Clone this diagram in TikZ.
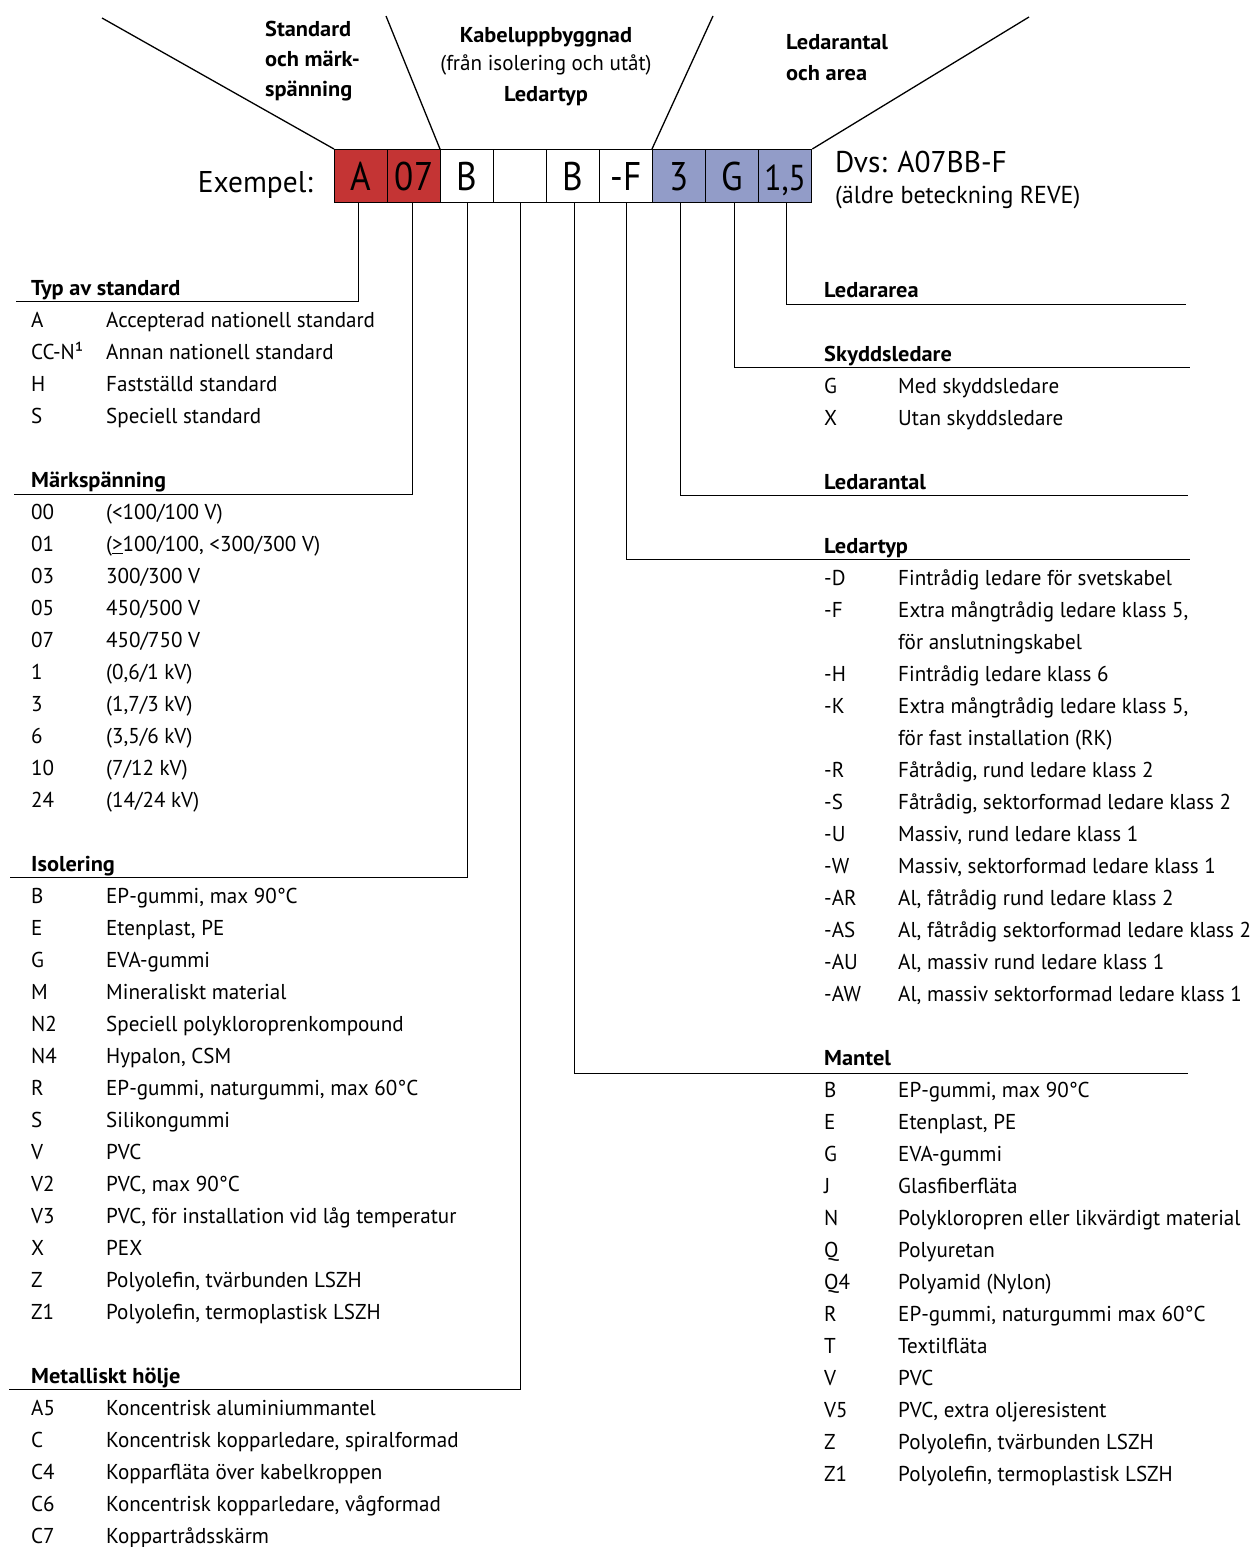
\documentclass[tikz,border=0pt]{standalone}
\usepackage{fontspec}
\setmainfont{PT Sans}[FakeStretch=0.98]
\newfontfamily\hdrfont{PT Sans}[FakeStretch=1.04]
\newfontfamily\cellfont{PT Sans}[FakeStretch=0.88]
\definecolor{cred}{RGB}{196,52,52}
\definecolor{cblue}{RGB}{146,156,200}
\newcommand\LRow[4]{\node[code] (lc#1) at (31,#2) {#3}; \node[desc] (ld#1) at (106,#2) {#4};}
\newcommand\RRow[4]{\node[code] (rc#1) at (824,#2) {#3}; \node[desc] (rd#1) at (898,#2) {#4};}
\begin{document}
\begin{tikzpicture}[x=1pt,y=-1pt,
  conn/.style={draw=black,line width=1.3pt},
  cell/.style={draw=black,line width=1.3pt,minimum width=53pt,minimum height=53pt,inner sep=0pt,anchor=north west,
    text height=28pt,text depth=0pt,font=\cellfont\fontsize{40}{40}\selectfont},
  code/.style={anchor=base west,inner sep=0pt,font=\fontsize{21.5}{24}\selectfont},
  desc/.style={anchor=base west,inner sep=0pt,font=\fontsize{21.5}{24}\selectfont},
  hdr/.style={anchor=base west,inner sep=0pt,font=\hdrfont\fontsize{21.5}{24}\selectfont\bfseries},
  toplbl/.style={inner sep=0pt,font=\hdrfont\fontsize{21.5}{24}\selectfont\bfseries},
]
\useasboundingbox (0,0) rectangle (1256,1547);
% code boxes
\node[cell,fill=cred] (b1) at (334,149) {A};
\node[cell,fill=cred] (b2) at (387,149) {07};
\node[cell,fill=white] (b3) at (440,149) {B};
\node[cell,fill=white] (b4) at (493,149) {};
\node[cell,fill=white] (b5) at (546,149) {B};
\node[cell,fill=white] (b6) at (599,149) {-F};
\node[cell,fill=cblue] (b7) at (652,149) {3};
\node[cell,fill=cblue] (b8) at (705,149) {G};
\node[cell,fill=cblue,font=\cellfont\fontsize{36}{36}\selectfont] (b9) at (758,149) {1,5};
\node[anchor=base east,inner sep=0pt,font=\fontsize{30}{30}\selectfont] (ex) at (313,192) {Exempel:};
\node[anchor=base west,inner sep=0pt,font=\fontsize{30}{30}\selectfont] (dvs) at (835,172) {Dvs: A07BB-F};
\node[anchor=base west,inner sep=0pt,font=\fontsize{24.5}{24.5}\selectfont] (aldre) at (835,203) {(äldre beteckning REVE)};
% top labels
\node[toplbl,anchor=base west] (s1) at (265,36) {Standard};
\node[toplbl,anchor=base west] (s2) at (265,66) {och märk-};
\node[toplbl,anchor=base west] (s3) at (265,96) {spänning};
\node[toplbl,anchor=base] (k1) at (546,42) {Kabeluppbyggnad};
\node[inner sep=0pt,anchor=base,font=\fontsize{21.5}{24}\selectfont] (k2) at (546,70) {(från isolering och utåt)};
\node[toplbl,anchor=base] (k3) at (546,101) {Ledartyp};
\node[toplbl,anchor=base west] (l1) at (786,49) {Ledarantal};
\node[toplbl,anchor=base west] (l2) at (786,80) {och area};
% top diagonals
\coordinate (t1) at (102,18);
\coordinate (t2) at (386,16);
\coordinate (t3) at (713,16);
\coordinate (t4) at (1029,17);
\draw[conn] (b1.north west) -- (t1);
\draw[conn] (b3.north west) -- (t2);
\draw[conn] (b7.north west) -- (t3);
\draw[conn] (b9.north east) -- (t4);
% left headers and connectors
\coordinate (e1) at (16,301.5);
\coordinate (e2) at (14,494.5);
\coordinate (e3) at (10,877.5);
\coordinate (e4) at (9,1389.5);
\draw[conn] ([xshift=-2.5pt]b1.south) |- (e1);
\draw[conn] ([xshift=-1.5pt]b2.south) |- (e2);
\draw[conn] (b3.south) |- (e3);
\draw[conn] (b4.south) |- (e4);
\node[hdr] (h1) at (31,295.5) {Typ av standard};
\node[hdr] (h2) at (31,487.5) {Märkspänning};
\node[hdr] (h3) at (31,871.5) {Isolering};
\node[hdr] (h4) at (31,1383.5) {Metalliskt hölje};
% right headers and connectors
\coordinate (e5) at (1186,304.5);
\coordinate (e6) at (1190,367.5);
\coordinate (e7) at (1188,495.5);
\coordinate (e8) at (1190,559.5);
\coordinate (e9) at (1188,1073.5);
\draw[conn] ([xshift=1.5pt]b9.south) |- (e5);
\draw[conn] ([xshift=2.5pt]b8.south) |- (e6);
\draw[conn] ([xshift=1.5pt]b7.south) |- (e7);
\draw[conn] (b6.south) |- (e8);
\draw[conn] ([xshift=1.5pt]b5.south) |- (e9);
\node[hdr] (h5) at (824,297.5) {Ledararea};
\node[hdr] (h6) at (824,361.5) {Skyddsledare};
\node[hdr] (h7) at (824,489.5) {Ledarantal};
\node[hdr] (h8) at (824,553.5) {Ledartyp};
\node[hdr] (h9) at (824,1065.5) {Mantel};
% Typ av standard
\LRow{a1}{327.5}{A}{Accepterad nationell standard}
\LRow{a2}{359.5}{CC-N¹}{Annan nationell standard}
\LRow{a3}{391.5}{H}{Fastställd standard}
\LRow{a4}{423.5}{S}{Speciell standard}
% Märkspänning
\LRow{m1}{519.5}{00}{(<100/100 V)}
\LRow{m2}{551.5}{01}{(\underline{>}100/100, <300/300 V)}
\LRow{m3}{583.5}{03}{300/300 V}
\LRow{m4}{615.5}{05}{450/500 V}
\LRow{m5}{647.5}{07}{450/750 V}
\LRow{m6}{679.5}{1}{(0,6/1 kV)}
\LRow{m7}{711.5}{3}{(1,7/3 kV)}
\LRow{m8}{743.5}{6}{(3,5/6 kV)}
\LRow{m9}{775.5}{10}{(7/12 kV)}
\LRow{m10}{807.5}{24}{(14/24 kV)}
% Isolering
\LRow{i1}{903.5}{B}{EP-gummi, max 90°C}
\LRow{i2}{935.5}{E}{Etenplast, PE}
\LRow{i3}{967.5}{G}{EVA-gummi}
\LRow{i4}{999.5}{M}{Mineraliskt material}
\LRow{i5}{1031.5}{N2}{Speciell polykloroprenkompound}
\LRow{i6}{1063.5}{N4}{Hypalon, CSM}
\LRow{i7}{1095.5}{R}{EP-gummi, naturgummi, max 60°C}
\LRow{i8}{1127.5}{S}{Silikongummi}
\LRow{i9}{1159.5}{V}{PVC}
\LRow{i10}{1191.5}{V2}{PVC, max 90°C}
\LRow{i11}{1223.5}{V3}{PVC, för installation vid låg temperatur}
\LRow{i12}{1255.5}{X}{PEX}
\LRow{i13}{1287.5}{Z}{Polyolefin, tvärbunden LSZH}
\LRow{i14}{1319.5}{Z1}{Polyolefin, termoplastisk LSZH}
% Metalliskt hölje
\LRow{h1}{1415.5}{A5}{Koncentrisk aluminiummantel}
\LRow{h2}{1447.5}{C}{Koncentrisk kopparledare, spiralformad}
\LRow{h3}{1479.5}{C4}{Kopparfläta över kabelkroppen}
\LRow{h4}{1511.5}{C6}{Koncentrisk kopparledare, vågformad}
\LRow{h5}{1543.5}{C7}{Koppartrådsskärm}
% Skyddsledare
\RRow{s1}{393.5}{G}{Med skyddsledare}
\RRow{s2}{425.5}{X}{Utan skyddsledare}
% Ledartyp
\RRow{t1}{585.5}{-D}{Fintrådig ledare för svetskabel}
\RRow{t2}{617.5}{-F}{Extra mångtrådig ledare klass 5,}
\node[desc] (rdt2b) at (898,649.5) {för anslutningskabel};
\RRow{t3}{681.5}{-H}{Fintrådig ledare klass 6}
\RRow{t4}{713.5}{-K}{Extra mångtrådig ledare klass 5,}
\node[desc] (rdt4b) at (898,745.5) {för fast installation (RK)};
\RRow{t5}{777.5}{-R}{Fåtrådig, rund ledare klass 2}
\RRow{t6}{809.5}{-S}{Fåtrådig, sektorformad ledare klass 2}
\RRow{t7}{841.5}{-U}{Massiv, rund ledare klass 1}
\RRow{t8}{873.5}{-W}{Massiv, sektorformad ledare klass 1}
\RRow{t9}{905.5}{-AR}{Al, fåtrådig rund ledare klass 2}
\RRow{t10}{937.5}{-AS}{Al, fåtrådig sektorformad ledare klass 2}
\RRow{t11}{969.5}{-AU}{Al, massiv rund ledare klass 1}
\RRow{t12}{1001.5}{-AW}{Al, massiv sektorformad ledare klass 1}
% Mantel
\RRow{n1}{1097.5}{B}{EP-gummi, max 90°C}
\RRow{n2}{1129.5}{E}{Etenplast, PE}
\RRow{n3}{1161.5}{G}{EVA-gummi}
\RRow{n4}{1193.5}{J}{Glasfiberfläta}
\RRow{n5}{1225.5}{N}{Polykloropren eller likvärdigt material}
\RRow{n6}{1257.5}{Q}{Polyuretan}
\RRow{n7}{1289.5}{Q4}{Polyamid (Nylon)}
\RRow{n8}{1321.5}{R}{EP-gummi, naturgummi max 60°C}
\RRow{n9}{1353.5}{T}{Textilfläta}
\RRow{n10}{1385.5}{V}{PVC}
\RRow{n11}{1417.5}{V5}{PVC, extra oljeresistent}
\RRow{n12}{1449.5}{Z}{Polyolefin, tvärbunden LSZH}
\RRow{n13}{1481.5}{Z1}{Polyolefin, termoplastisk LSZH}
\end{tikzpicture}
\end{document}
